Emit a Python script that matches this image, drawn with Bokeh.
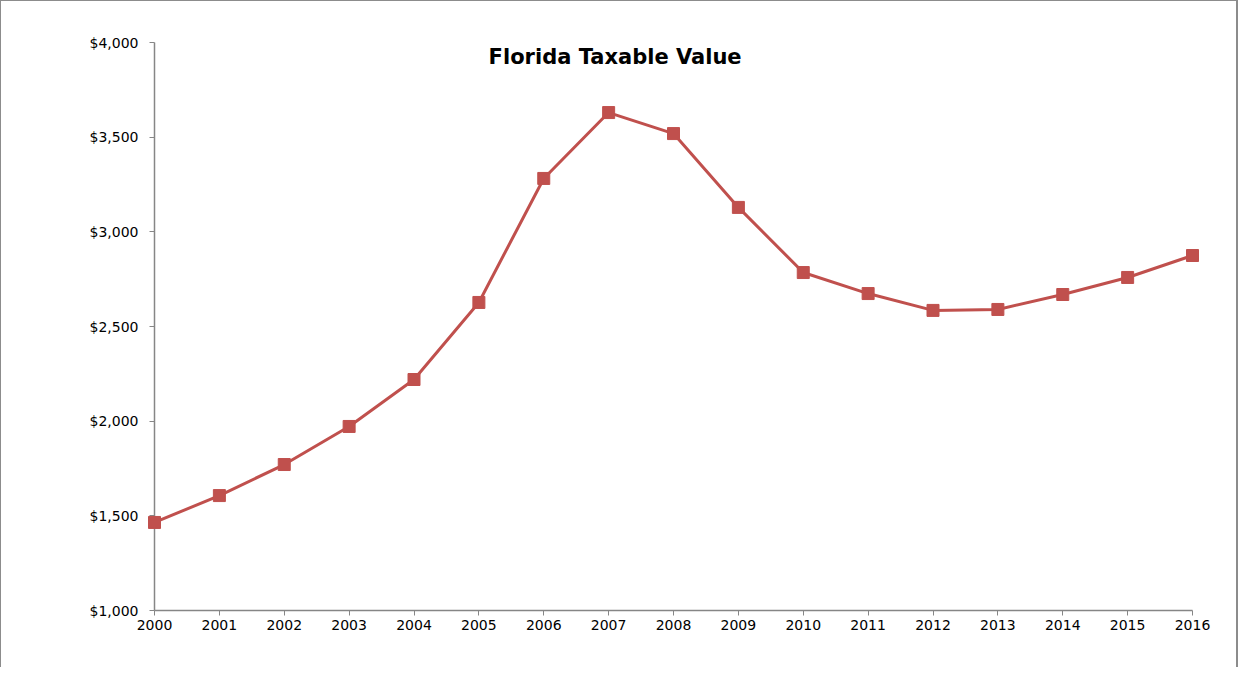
from bokeh.plotting import figure
from bokeh.models import Range1d, FixedTicker, NumeralTickFormatter, Label
from bokeh.embed import file_html
from bokeh.resources import INLINE

years = [2000, 2001, 2002, 2003, 2004, 2005, 2006, 2007, 2008, 2009, 2010, 2011, 2012, 2013, 2014, 2015, 2016]
values = [1465, 1607, 1771, 1972, 2220, 2627, 3282, 3630, 3519, 3129, 2785, 2674, 2585, 2590, 2669, 2759, 2875]
y_ticks = [1000, 1500, 2000, 2500, 3000, 3500, 4000]
title_text = "Florida Taxable Value"

RED = "#C0504D"
AXIS = "#868686"

p = figure(width=1238, height=667, output_backend="svg", toolbar_location=None,
           x_range=Range1d(2000, 2016), y_range=Range1d(1000, 4000),
           min_border_left=153, min_border_right=47, min_border_top=41, min_border_bottom=58)
p.styles = {"border-left": "1px solid #8c8c8c", "border-top": "1px solid #8c8c8c",
            "border-right": "2px solid #8c8c8c", "box-sizing": "border-box"}
p.outline_line_color = None
p.xgrid.grid_line_color = None
p.ygrid.grid_line_color = None

p.line(years, values, line_color=RED, line_width=3, level="overlay")
p.scatter(years, values, marker="square", size=12, fill_color=RED, line_color=RED, level="overlay")

p.xaxis.ticker = FixedTicker(ticks=years)
p.yaxis.ticker = FixedTicker(ticks=y_ticks)
p.yaxis.formatter = NumeralTickFormatter(format="$0,0")
for ax in (p.xaxis, p.yaxis):
    ax.axis_line_color = AXIS
    ax.axis_line_width = 1.5
    ax.major_tick_line_color = AXIS
    ax.major_tick_in = 0
    ax.major_tick_out = 5
    ax.minor_tick_line_color = None
    ax.major_label_text_font = "DejaVu Sans"
    ax.major_label_text_font_size = "14px"
    ax.major_label_text_color = "#000000"
p.xaxis.major_label_standoff = 4
p.yaxis.major_label_standoff = 11

p.add_layout(Label(x=2007.1, y=3926, text=title_text, text_align="center", text_baseline="middle",
                   text_font="DejaVu Sans", text_font_style="bold", text_font_size="21px",
                   text_color="#000000"))

open("out.html", "w").write(file_html(p, INLINE))
